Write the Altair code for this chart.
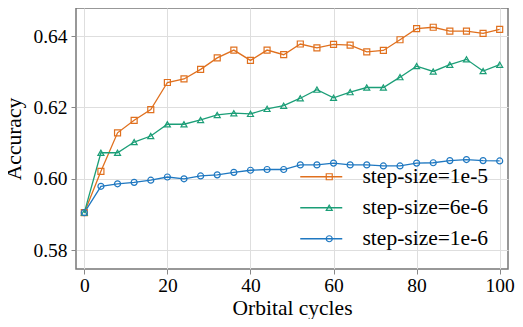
import altair as alt
import pandas as pd

cycles = list(range(0, 101, 4))
acc_1e5 = [0.5905, 0.6021, 0.6129, 0.6164, 0.6194, 0.6270, 0.6280, 0.6307, 0.6339, 0.6361,
           0.6332, 0.6361, 0.6348, 0.6378, 0.6367, 0.6377, 0.6375, 0.6356, 0.6360, 0.6390,
           0.6421, 0.6425, 0.6414, 0.6414, 0.6408, 0.6419]
acc_6e6 = [0.5905, 0.6073, 0.6073, 0.6103, 0.6120, 0.6153, 0.6153, 0.6165, 0.6179, 0.6184,
           0.6182, 0.6196, 0.6205, 0.6226, 0.6250, 0.6227, 0.6243, 0.6256, 0.6256, 0.6285,
           0.6316, 0.6301, 0.6320, 0.6335, 0.6302, 0.6320]
acc_1e6 = [0.5905, 0.5979, 0.5986, 0.5990, 0.5996, 0.6005, 0.6000, 0.6008, 0.6011, 0.6018,
           0.6024, 0.6026, 0.6026, 0.6039, 0.6039, 0.6044, 0.6039, 0.6039, 0.6036, 0.6036,
           0.6044, 0.6045, 0.6051, 0.6054, 0.6051, 0.6050]
series_names = ["step-size=1e-5", "step-size=6e-6", "step-size=1e-6"]
colors = ["#e0701e", "#1b9e77", "#1f78c1"]
shapes = ["square", "triangle-up", "circle"]
x_ticks = [0, 20, 40, 60, 80, 100]
y_ticks = [0.58, 0.60, 0.62, 0.64]

rows = []
for name, vals in zip(series_names, [acc_1e5, acc_6e6, acc_1e6]):
    for c, v in zip(cycles, vals):
        rows.append({"cycle": c, "acc": v, "series": name})
df = pd.DataFrame(rows)

font = "Liberation Serif"
legend_fs = 21.5

x = alt.X("cycle:Q", title="Orbital cycles",
          scale=alt.Scale(domain=[-2, 102], nice=False, zero=False),
          axis=alt.Axis(values=x_ticks, format="d"))
y = alt.Y("acc:Q", title="Accuracy",
          scale=alt.Scale(domain=[0.5747, 0.6479], nice=False, zero=False),
          axis=alt.Axis(values=y_ticks, format=".2f"))
color_scale = alt.Scale(domain=series_names, range=colors)
shape_scale = alt.Scale(domain=series_names, range=shapes)

line_legend = alt.Legend(title=None, orient="none", legendX=234.5, legendY=158,
                         symbolType="M-3.5,0L3.5,0", symbolSize=144, symbolStrokeWidth=1.6,
                         labelFont=font, labelFontSize=legend_fs, labelColor="black",
                         labelOffset=30.5, rowPadding=8, padding=0)
point_legend = alt.Legend(title=None, orient="none", legendX=242.5, legendY=158,
                          labelExpr="' '", labelFont=font, labelFontSize=legend_fs,
                          labelOffset=17, rowPadding=8, padding=0,
                          symbolSize=36, symbolStrokeWidth=1.2)

lines = alt.Chart(df).mark_line(strokeWidth=1.3).encode(
    x=x, y=y,
    color=alt.Color("series:N", scale=color_scale, sort=series_names, legend=line_legend),
)
points = alt.Chart(df).mark_point(filled=False, size=36, strokeWidth=1.2, opacity=1).encode(
    x=x, y=y,
    color=alt.Color("series:N", scale=color_scale, sort=series_names, legend=point_legend),
    shape=alt.Shape("series:N", scale=shape_scale, sort=series_names, legend=point_legend),
)

chart = alt.layer(lines, points).resolve_legend(
    color="independent", shape="independent"
).properties(
    width=432, height=261,
    padding={"left": 68, "top": 0, "right": 7, "bottom": 50},
    autosize=alt.AutoSizeParams(type="none"),
).configure(
    font=font
).configure_view(
    stroke="#777777", strokeWidth=1.5
).configure_legend(
    labelFont=font, labelFontSize=legend_fs, labelColor="black"
).configure_axis(
    labelFont=font, labelFontSize=19.5, labelColor="black",
    titleFont=font, titleFontSize=21.5, titleFontWeight="normal", titleColor="black",
    grid=True, gridColor="#dedede", gridWidth=1,
    domain=False, tickColor="#888888", tickSize=5, tickWidth=1,
).configure_axisX(
    labelPadding=2, titlePadding=3
).configure_axisY(
    labelPadding=4, titlePadding=7
)

chart.save("out.html", embed_options={"renderer": "svg", "actions": False})
